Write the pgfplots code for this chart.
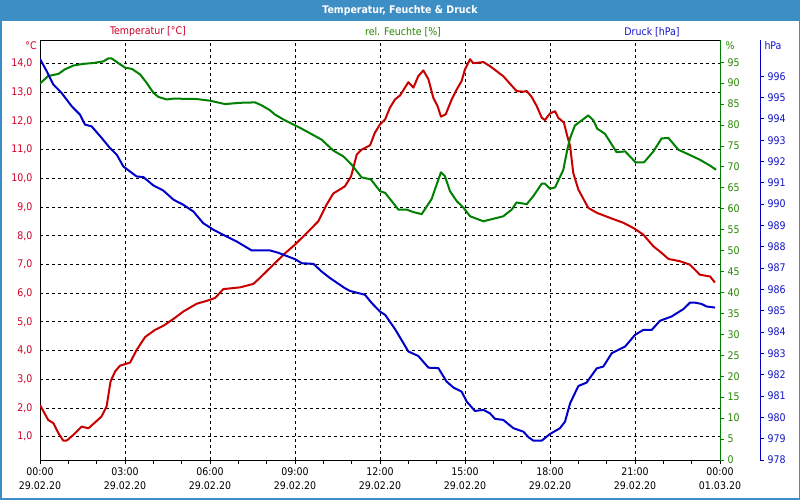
\documentclass[border=0pt]{standalone}
\usepackage{pgfplots}
\pgfplotsset{compat=1.18}
\usepackage{fontspec}
\setmainfont{DejaVu Sans Condensed}
\definecolor{tred}{RGB}{200,0,0}
\definecolor{tredtxt}{RGB}{208,0,40}
\definecolor{hgreen}{RGB}{0,128,0}
\definecolor{hgreentxt}{RGB}{40,135,0}
\definecolor{pblue}{RGB}{0,0,200}
\definecolor{pbluetxt}{RGB}{20,20,200}
\definecolor{titlebar}{RGB}{62,142,198}
\newcommand{\fs}{\fontsize{10.5}{14.5}\selectfont}
\pgfplotsset{base/.style={at={(40pt,40pt)}, anchor=south west, scale only axis, height=420pt, xmin=0,
  /pgf/number format/assume math mode=true, tick label style={font=\fs},
  /pgf/number format/1000 sep={}}}
\begin{document}
\begin{tikzpicture}[x=1pt,y=1pt]
\path[use as bounding box] (0,0) rectangle (800,500);
\fill[white] (0,0) rectangle (800,500);
\fill[titlebar] (0,479) rectangle (800,500);
\draw[titlebar, line width=1.5pt] (0.75,0.75) rectangle (799.25,499.25);
\node[white, font=\fs\bfseries] at (400,489.5) {Temperatur, Feuchte \& Druck};

% Temperature axis (left)
\begin{axis}[base, width=680pt, xmax=24, ymin=0.185, ymax=14.82,
  axis line style={black, line width=0.8pt},
  xtick={0,3,...,24},
  minor xtick={1,2,4,5,7,8,10,11,13,14,16,17,19,20,22,23},
  xticklabels={{00:00\\29.02.20},{03:00\\29.02.20},{06:00\\29.02.20},{09:00\\29.02.20},{12:00\\29.02.20},{15:00\\29.02.20},{18:00\\29.02.20},{21:00\\29.02.20},{00:00\\01.03.20}},
  xticklabel style={align=center, black},
  ytick={1,2,...,14},
  yticklabel style={tredtxt, /pgf/number format/.cd, fixed, fixed zerofill, precision=1, use comma},
  xtick pos=bottom, ytick pos=left, tick align=outside,
  major tick length=4pt, minor tick length=4pt,
  xtick style={black, line width=0.8pt},
  ytick style={draw=none},
  grid=major, major grid style={black, line width=0.8pt, dash pattern=on 3pt off 3pt},
]
\addplot[tred, line width=2pt, line join=round] table {
0 2.10
0.29 1.58
0.47 1.47
0.65 1.12
0.82 0.86
0.94 0.86
1.18 1.06
1.47 1.35
1.71 1.29
1.94 1.49
2.17 1.70
2.35 2.05
2.49 2.92
2.65 3.27
2.82 3.47
3.18 3.58
3.41 4.02
3.71 4.47
4.06 4.72
4.35 4.86
4.71 5.10
5.06 5.36
5.53 5.63
5.88 5.73
6.18 5.83
6.47 6.14
7.06 6.20
7.53 6.32
7.76 6.53
8.12 6.88
8.65 7.39
9.00 7.69
9.47 8.15
9.82 8.50
10.12 9.09
10.35 9.47
10.76 9.72
10.98 10.07
11.18 10.83
11.35 11.00
11.65 11.15
11.82 11.59
12.00 11.88
12.18 12.05
12.35 12.46
12.53 12.75
12.71 12.89
13.00 13.35
13.18 13.16
13.35 13.56
13.53 13.76
13.71 13.45
13.88 12.81
14.03 12.52
14.15 12.15
14.32 12.23
14.53 12.75
14.71 13.10
14.88 13.39
15.00 13.80
15.18 14.15
15.29 14.01
15.65 14.05
15.88 13.91
16.35 13.56
16.82 13.04
17.06 13.02
17.18 13.04
17.35 12.84
17.53 12.52
17.71 12.11
17.82 12.03
18.00 12.26
18.18 12.34
18.29 12.11
18.49 11.94
18.61 11.47
18.71 11.12
18.82 10.19
19.00 9.61
19.35 8.97
19.65 8.80
20.12 8.62
20.59 8.45
20.94 8.27
21.29 8.04
21.65 7.63
21.94 7.40
22.18 7.19
22.59 7.11
22.94 6.99
23.29 6.64
23.65 6.58
23.82 6.37
};
\end{axis}

% Humidity axis (right)
\begin{axis}[base, width=680pt, xmax=24, ymin=0, ymax=100.3,
  axis x line=none, axis y line*=right,
  y axis line style={hgreen, line width=1pt, -},
  ytick={0,5,...,95}, tick align=outside, major tick length=4pt,
  ytick style={hgreen, line width=0.8pt},
  yticklabel style={hgreentxt},
]
\addplot[hgreen, line width=2pt, line join=round] table {
0 89.9
0.29 91.7
0.65 92.2
0.88 93.3
1.18 94.2
1.53 94.6
1.88 94.8
2.24 95.2
2.41 95.9
2.53 95.9
2.76 94.8
3.00 93.7
3.24 93.4
3.53 92.1
3.76 90.1
4.00 87.7
4.18 86.7
4.47 86.1
4.71 86.3
5.53 86.2
6.00 85.8
6.53 85.0
7.06 85.3
7.59 85.4
7.82 84.7
8.12 83.5
8.29 82.5
8.65 81.1
9.24 79.1
9.94 76.5
10.35 73.9
10.71 72.5
11.00 70.5
11.35 67.5
11.68 67.0
12.00 64.2
12.18 63.8
12.65 59.8
12.94 59.8
13.18 59.2
13.47 58.7
13.82 62.3
14.15 68.7
14.29 67.8
14.47 64.2
14.71 61.8
14.94 60.3
15.18 58.2
15.65 57.0
15.88 57.4
16.35 58.2
16.65 59.8
16.82 61.5
17.18 61.1
17.41 63.0
17.71 66.0
17.82 66.0
18.00 64.8
18.18 65.1
18.47 69.3
18.61 74.1
18.71 76.9
18.88 79.9
19.12 81.1
19.35 82.3
19.53 81.1
19.67 79.1
19.94 77.9
20.35 73.5
20.65 73.7
21.02 71.1
21.32 71.1
21.65 73.7
21.94 76.8
22.18 76.9
22.53 74.1
22.82 73.2
23.29 71.7
23.65 70.3
23.86 69.3
};
\end{axis}

% Pressure axis (outer right)
\begin{axis}[base, width=720pt, xmax=25.41176, ymin=978, ymax=997.7,
  axis x line=none, axis y line*=right,
  y axis line style={pblue, line width=1pt, -},
  ytick={978,979,...,996}, tick align=outside, major tick length=4pt,
  ytick style={pblue, line width=0.8pt},
  yticklabel style={pbluetxt},
]
\addplot[pblue, line width=2pt, line join=round] table {
0 996.81
0.24 996.23
0.47 995.61
0.76 995.22
1.12 994.59
1.41 994.20
1.59 993.73
1.82 993.65
2.18 993.10
2.47 992.63
2.71 992.32
2.94 991.77
3.41 991.30
3.65 991.27
4.00 990.88
4.35 990.64
4.71 990.21
5.06 989.97
5.41 989.66
5.76 989.11
6.12 988.80
6.47 988.56
6.94 988.25
7.47 987.83
8.12 987.83
8.41 987.72
9.00 987.42
9.24 987.23
9.65 987.20
9.94 986.84
10.24 986.53
10.76 986.06
10.94 985.93
11.47 985.75
11.71 985.36
12.00 984.96
12.18 984.81
12.53 984.14
12.76 983.63
13.00 983.09
13.35 982.88
13.71 982.33
14.06 982.31
14.35 981.68
14.59 981.40
14.88 981.21
15.06 980.74
15.35 980.30
15.65 980.35
15.88 980.19
16.06 979.93
16.35 979.88
16.71 979.49
17.06 979.33
17.24 979.07
17.41 978.91
17.71 978.91
18.00 979.22
18.35 979.49
18.53 979.80
18.71 980.66
19.00 981.47
19.29 981.63
19.65 982.30
19.88 982.38
20.18 983.01
20.65 983.32
21.00 983.87
21.29 984.10
21.59 984.10
21.88 984.53
22.29 984.73
22.71 985.08
22.94 985.38
23.12 985.38
23.35 985.32
23.53 985.20
23.82 985.15
};
\end{axis}

\node[tredtxt, font=\fs] at (148,468) {Temperatur [°C]};
\node[hgreentxt, font=\fs] at (403,468) {rel. Feuchte [\%]};
\node[pbluetxt, font=\fs] at (652,468) {Druck [hPa]};
\node[tredtxt, font=\fs] at (31,454) {°C};
\node[hgreentxt, font=\fs] at (730,454) {\%};
\node[pbluetxt, font=\fs] at (773,454) {hPa};
\end{tikzpicture}
\end{document}
